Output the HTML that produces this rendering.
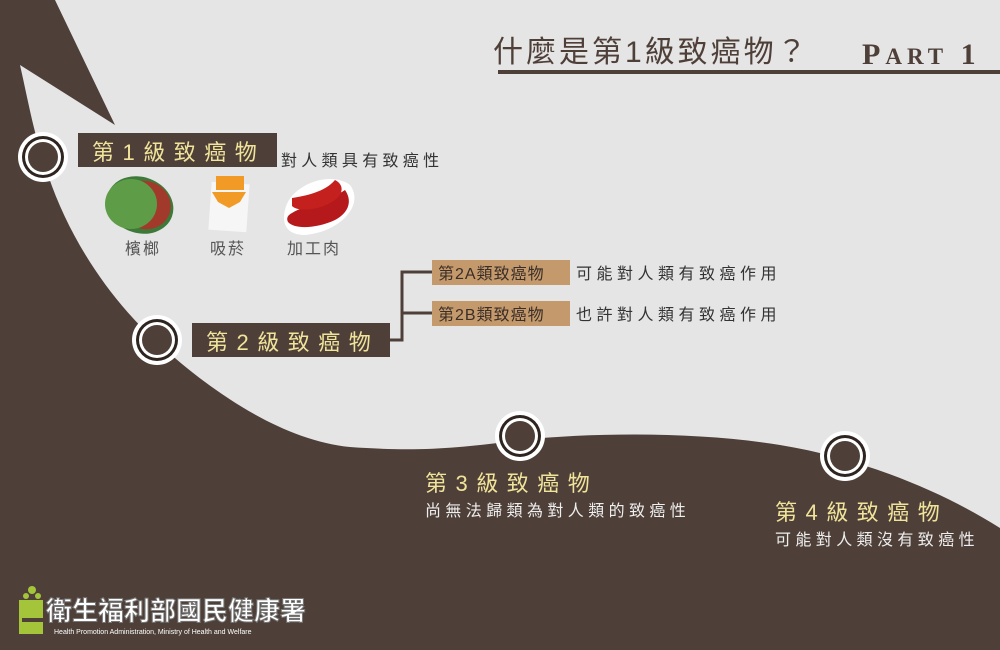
<!DOCTYPE html>
<html><head><meta charset="utf-8"><style>
body{margin:0;width:1000px;height:650px;overflow:hidden;background:#e6e5e5;font-family:"Liberation Sans","Noto Sans CJK TC",sans-serif}
</style></head><body>
<svg width="1000" height="650" viewBox="0 0 1000 650" xmlns="http://www.w3.org/2000/svg" style="position:absolute;left:0;top:0">
<rect width="1000" height="650" fill="#e6e5e5"/>
<path d="M0,0 L55,0 L115,125 L20,65 C28,100 35,140 48,175 C70,240 110,300 160,345 C210,390 280,440 350,447 C420,452 460,448 520,440 C600,432 700,432 780,445 C860,458 940,490 1000,528 L1000,650 L0,650 Z" fill="#4e4039"/>
<!-- title -->
<text x="493" y="62" font-size="30" fill="#4e4039" letter-spacing="3">什麼是第1級致癌物？</text>
<text x="862" y="64" font-size="30" fill="#4e4039" letter-spacing="5" font-family="Liberation Serif,serif" font-weight="bold">P<tspan font-size="23">ART</tspan> 1</text>
<rect x="498" y="70" width="502" height="4" fill="#4e4039"/>
<!-- circles -->
<g>
<circle cx="43" cy="157" r="25" fill="#fff"/><circle cx="43" cy="157" r="21" fill="#2e2420"/><circle cx="43" cy="157" r="18" fill="#fff"/><circle cx="43" cy="157" r="15" fill="#4e4039"/>
<circle cx="157" cy="340" r="25" fill="#fff"/><circle cx="157" cy="340" r="21" fill="#2e2420"/><circle cx="157" cy="340" r="18" fill="#fff"/><circle cx="157" cy="340" r="15" fill="#4e4039"/>
<circle cx="520" cy="436" r="25" fill="#fff"/><circle cx="520" cy="436" r="21" fill="#2e2420"/><circle cx="520" cy="436" r="18" fill="#fff"/><circle cx="520" cy="436" r="15" fill="#4e4039"/>
<circle cx="845" cy="456" r="25" fill="#fff"/><circle cx="845" cy="456" r="21" fill="#2e2420"/><circle cx="845" cy="456" r="18" fill="#fff"/><circle cx="845" cy="456" r="15" fill="#4e4039"/>
</g>
<!-- level 1 -->
<rect x="78" y="133" width="199" height="34" fill="#4e4039"/>
<text x="92" y="160" font-size="22" fill="#f0e39a" letter-spacing="8.5">第1級致癌物</text>
<text x="281" y="166" font-size="16" fill="#333" letter-spacing="4.3">對人類具有致癌性</text>
<!-- icons -->
<ellipse cx="140" cy="205" rx="34" ry="28" fill="#3d7a3a" transform="rotate(20 140 205)"/>
<ellipse cx="145" cy="205" rx="26" ry="24" fill="#a23a2c" transform="rotate(20 145 205)"/>
<ellipse cx="131" cy="204" rx="26" ry="25" fill="#5e9c48"/>
<rect x="210" y="183" width="38" height="48" fill="#f6f6f6" transform="rotate(4 229 207)"/>
<path d="M212,192 L246,192 L240,202 L229,208 L218,202 Z" fill="#f29a26"/>
<rect x="216" y="176" width="28" height="14" fill="#f29a26"/>
<path d="M285,210 C290,185 330,170 350,185 C365,205 340,232 305,235 C285,235 282,222 285,210Z" fill="#fff"/>
<path d="M292,213 C305,205 330,200 345,190 C352,200 350,212 335,220 C318,228 295,230 288,222 C286,218 288,215 292,213Z" fill="#b5191b"/>
<path d="M292,198 C305,196 325,192 335,180 C345,185 344,196 330,203 C318,210 298,212 292,206 Z" fill="#c4211e"/>
<text x="125" y="254" font-size="16" fill="#555" letter-spacing="2">檳榔</text>
<text x="210" y="254" font-size="16" fill="#555" letter-spacing="2">吸菸</text>
<text x="287" y="254" font-size="16" fill="#555" letter-spacing="2">加工肉</text>
<!-- level 2 -->
<rect x="192" y="323" width="198" height="34" fill="#4e4039"/>
<text x="206" y="350" font-size="22" fill="#f0e39a" letter-spacing="8.5">第2級致癌物</text>
<path d="M390,340 H402 V272 H432 M402,313 H432" stroke="#4e4039" stroke-width="3" fill="none"/>
<rect x="432" y="260" width="138" height="25" fill="#c49a6c"/>
<rect x="432" y="301" width="138" height="25" fill="#c49a6c"/>
<text x="438" y="279" font-size="16" fill="#3a2e28" letter-spacing="1">第2A類致癌物</text>
<text x="438" y="320" font-size="16" fill="#3a2e28" letter-spacing="1">第2B類致癌物</text>
<text x="576" y="279" font-size="16" fill="#333" letter-spacing="4.5">可能對人類有致癌作用</text>
<text x="576" y="320" font-size="16" fill="#333" letter-spacing="4.5">也許對人類有致癌作用</text>
<!-- level 3,4 -->
<text x="425" y="491" font-size="22" fill="#f0e39a" letter-spacing="8.5">第3級致癌物</text>
<text x="425" y="516" font-size="16" fill="#eee" letter-spacing="4.4">尚無法歸類為對人類的致癌性</text>
<text x="775" y="520" font-size="22" fill="#f0e39a" letter-spacing="8.5">第4級致癌物</text>
<text x="775" y="545" font-size="16" fill="#eee" letter-spacing="4.4">可能對人類沒有致癌性</text>
<!-- logo -->
<g fill="#a4c43a">
<circle cx="32" cy="590" r="4"/><circle cx="26" cy="596" r="3"/><circle cx="38" cy="596" r="3"/>
<path d="M19,600 h24 v34 h-24 z"/>
</g>
<rect x="22" y="618" width="22" height="4" fill="#4e4039"/>
<text x="46" y="620" font-size="26" font-weight="bold" fill="#fff" stroke="#777" stroke-width="1">衛生福利部國民健康署</text>
<text x="54" y="634" font-size="7" fill="#fff">Health Promotion Administration, Ministry of Health and Welfare</text>
</svg>
</body></html>
